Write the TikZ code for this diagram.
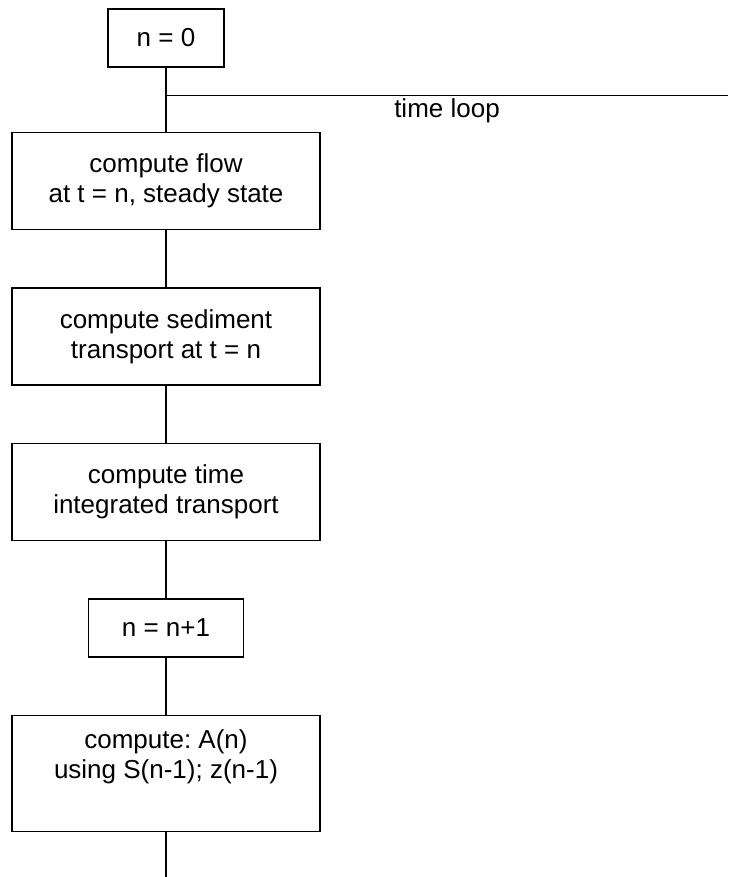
\documentclass[tikz,border=0pt]{standalone}
\usepackage{fontspec}
\setmainfont{Liberation Sans}
\usetikzlibrary{positioning}
\frenchspacing

\begin{document}
\begin{tikzpicture}[
      node distance=28.5pt,
      line width=0.75pt,
      process/.style={draw, minimum width=154pt, minimum height=48.5pt, align=center, inner sep=2pt, font=\fontsize{13}{15}\selectfont},
      counter/.style={draw, minimum height=29pt, align=center, inner sep=2pt, font=\fontsize{13}{15}\selectfont}
    ]
    \useasboundingbox (-83pt,19pt) rectangle (281pt,-419.5pt);

    \node[counter, minimum width=58pt] (init) at (0,0) {n = 0};
    \node[process, below=32pt of init] (flow) {compute flow\\at t = n, steady state};
    \node[process, below=of flow] (sediment) {compute sediment\\transport at t = n};
    \node[process, below=of sediment] (integrate) {compute time\\integrated transport};
    \node[counter, minimum width=77.5pt, below=of integrate] (advance) {n = n+1};
    \node[process, minimum height=58pt, below=of advance] (update) {compute: A(n)\\using S(n-1); z(n-1)\\\strut};

    \coordinate[below=14pt of init.south] (split);
    \coordinate[right=281pt of split] (loopend);
    \coordinate[below=26.5pt of update.south] (exit);

    \draw (init) -- (flow);
    \draw (split) -- node[below, inner sep=1pt, font=\fontsize{13}{15}\selectfont]{time loop} (loopend);
    \draw (flow) -- (sediment);
    \draw (sediment) -- (integrate);
    \draw (integrate) -- (advance);
    \draw (advance) -- (update);
    \draw (update) -- (exit);
  \end{tikzpicture}
\end{document}
